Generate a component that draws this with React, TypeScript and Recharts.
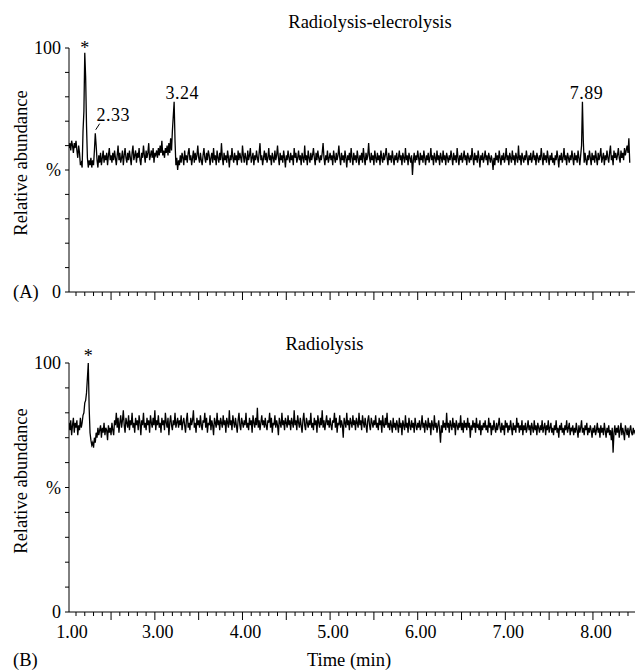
import { LineChart, Line, XAxis, YAxis, ReferenceDot, ReferenceLine } from 'recharts';

// sampling of both traces (min)
const T0 = 2.02;
const STEP = 0.01;
const X_DOMAIN: [number, number] = [2.02, 8.48];

// Radiolysis-elecrolysis trace, % relative abundance (2.02 .. 8.42 min)
const traceA = [
  59, 61, 58, 62, 60, 57, 61, 59, 62, 58, 55, 60, 57, 52, 53, 51, 66, 74, 98, 88, 68, 55, 51, 54, 52,
  55, 51, 54, 52, 58, 65, 60, 54, 51, 56, 53, 57, 52, 55, 58, 53, 56, 54, 57, 52, 56, 59, 54, 56, 53,
  57, 54, 58, 55, 52, 56, 60, 54, 57, 53, 55, 58, 52, 56, 59, 55, 53, 57, 54, 58, 55, 52, 57, 60, 54,
  56, 58, 53, 57, 55, 59, 54, 52, 57, 55, 60, 56, 53, 58, 55, 57, 61, 54, 56, 58, 55, 59, 53, 57, 56,
  58, 55, 59, 56, 60, 57, 62, 56, 58, 55, 59, 57, 60, 56, 61, 57, 63, 58, 66, 72, 78, 62, 52, 55, 50,
  54, 52, 56, 53, 57, 55, 52, 58, 54, 56, 53, 57, 59, 54, 56, 52, 55, 58, 53, 57, 54, 56, 60, 55, 53,
  57, 54, 52, 56, 59, 55, 53, 57, 54, 58, 56, 52, 55, 57, 53, 59, 54, 56, 52, 58, 55, 53, 57, 54, 61,
  55, 52, 57, 54, 56, 53, 58, 55, 51, 56, 54, 59, 55, 53, 57, 54, 56, 52, 58, 54, 57, 55, 53, 60, 56,
  53, 57, 55, 52, 58, 54, 56, 59, 53, 55, 57, 52, 56, 54, 58, 55, 53, 57, 61, 54, 56, 52, 55, 58, 54,
  57, 53, 55, 59, 54, 56, 52, 57, 55, 53, 58, 54, 56, 60, 55, 52, 57, 54, 56, 53, 58, 55, 51, 56, 54,
  58, 55, 53, 57, 54, 56, 52, 59, 55, 57, 53, 55, 58, 54, 56, 52, 57, 55, 53, 60, 54, 56, 52, 58, 55,
  53, 57, 54, 56, 59, 55, 52, 57, 54, 58, 55, 53, 56, 54, 57, 61, 55, 52, 56, 54, 58, 53, 55, 57, 54,
  56, 52, 58, 55, 53, 57, 54, 56, 60, 55, 52, 57, 54, 56, 53, 58, 55, 51, 56, 54, 57, 53, 59, 55, 52,
  57, 54, 56, 53, 58, 55, 52, 56, 54, 57, 53, 59, 55, 52, 57, 54, 56, 61, 55, 53, 57, 54, 56, 52, 58,
  55, 53, 57, 54, 56, 52, 58, 55, 53, 57, 54, 56, 59, 55, 52, 57, 54, 56, 53, 58, 55, 52, 56, 54, 57,
  53, 55, 58, 54, 56, 52, 57, 55, 53, 59, 54, 56, 52, 57, 55, 53, 56, 48, 54, 57, 53, 56, 54, 58, 55,
  52, 57, 54, 56, 53, 58, 55, 52, 56, 54, 57, 53, 55, 59, 54, 56, 52, 57, 55, 53, 58, 54, 56, 52, 57,
  55, 53, 58, 54, 56, 52, 57, 55, 53, 56, 54, 58, 55, 52, 57, 54, 56, 53, 59, 55, 52, 56, 54, 57, 53,
  55, 58, 54, 56, 52, 57, 55, 53, 56, 54, 59, 55, 52, 57, 54, 56, 53, 58, 55, 51, 56, 54, 57, 53, 55,
  58, 54, 56, 52, 57, 55, 53, 56, 54, 50, 55, 52, 57, 54, 56, 53, 58, 55, 52, 56, 54, 57, 53, 55, 59,
  54, 56, 52, 57, 55, 53, 58, 54, 56, 52, 57, 55, 53, 60, 54, 56, 52, 57, 55, 53, 56, 54, 58, 55, 52,
  56, 54, 57, 53, 55, 58, 54, 56, 52, 57, 55, 53, 56, 54, 59, 55, 52, 57, 54, 56, 53, 58, 55, 52, 56,
  54, 57, 53, 55, 52, 56, 54, 58, 55, 51, 56, 54, 57, 53, 55, 59, 54, 56, 52, 57, 55, 53, 56, 54, 58,
  55, 52, 57, 54, 56, 53, 58, 55, 52, 56, 60, 78, 62, 53, 57, 54, 52, 56, 54, 58, 55, 52, 57, 54, 56,
  53, 58, 55, 52, 57, 54, 56, 59, 53, 55, 57, 52, 56, 54, 58, 55, 53, 57, 60, 54, 56, 52, 58, 55, 57,
  54, 56, 59, 55, 53, 58, 55, 57, 54, 59, 56, 58, 60, 57, 63, 53,
];

// Radiolysis trace (2.02 .. 8.48 min)
const traceB = [
  76, 73, 77, 71, 75, 78, 72, 76, 74, 77, 71, 75, 73, 78, 74, 76, 79, 80, 84, 85, 88, 94, 100, 82, 72,
  69, 67, 68, 66, 70, 68, 72, 70, 74, 71, 73, 75, 70, 74, 72, 76, 71, 74, 73, 69, 75, 72, 74, 71, 76,
  73, 71, 77, 75, 80, 74, 78, 72, 76, 79, 74, 77, 81, 75, 72, 78, 76, 74, 79, 73, 77, 75, 80, 74, 76,
  72, 78, 75, 77, 73, 79, 76, 71, 77, 75, 80, 74, 76, 73, 78, 75, 77, 72, 79, 76, 74, 78, 75, 81, 73,
  77, 75, 79, 74, 76, 72, 78, 75, 77, 73, 80, 76, 74, 78, 71, 76, 79, 75, 73, 77, 75, 80, 74, 76, 78,
  74, 77, 75, 79, 73, 76, 78, 75, 72, 77, 80, 74, 76, 73, 78, 75, 77, 81, 74, 76, 72, 78, 75, 77, 74,
  79, 75, 73, 77, 76, 80, 74, 78, 72, 76, 75, 79, 73, 77, 75, 71, 78, 76, 74, 80, 75, 77, 73, 78, 76,
  74, 79, 75, 77, 72, 78, 76, 74, 81, 75, 77, 73, 79, 76, 74, 78, 75, 72, 77, 80, 75, 73, 78, 76, 74,
  77, 75, 80, 74, 76, 73, 78, 75, 77, 72, 79, 76, 74, 78, 75, 82, 74, 77, 73, 76, 79, 75, 77, 74, 78,
  75, 73, 77, 76, 80, 74, 78, 72, 76, 75, 79, 74, 77, 75, 71, 78, 76, 74, 80, 75, 77, 73, 78, 76, 74,
  79, 75, 77, 73, 78, 76, 74, 81, 75, 77, 73, 79, 76, 74, 78, 75, 72, 77, 80, 75, 73, 78, 76, 74, 77,
  75, 80, 74, 76, 73, 78, 75, 77, 72, 79, 76, 74, 78, 75, 81, 74, 77, 73, 76, 79, 75, 77, 74, 78, 75,
  73, 77, 76, 80, 74, 78, 72, 76, 75, 79, 74, 77, 75, 70, 78, 76, 74, 80, 75, 77, 73, 78, 76, 74, 79,
  75, 77, 73, 78, 76, 74, 80, 75, 77, 73, 79, 76, 74, 78, 75, 72, 77, 79, 75, 73, 78, 76, 74, 77, 75,
  79, 74, 76, 73, 78, 75, 77, 72, 79, 75, 74, 78, 75, 80, 74, 76, 73, 77, 75, 72, 78, 74, 76, 73, 77,
  75, 72, 78, 74, 76, 71, 77, 75, 73, 79, 74, 76, 72, 78, 75, 73, 77, 74, 76, 72, 78, 75, 73, 76, 74,
  77, 73, 75, 79, 74, 76, 72, 77, 75, 73, 78, 74, 76, 71, 77, 75, 73, 79, 74, 76, 72, 75, 77, 73, 68,
  75, 72, 77, 74, 76, 73, 80, 74, 76, 72, 77, 75, 73, 78, 74, 76, 71, 77, 75, 73, 76, 74, 79, 73, 76,
  72, 77, 74, 76, 73, 78, 74, 76, 70, 75, 73, 77, 74, 76, 72, 78, 74, 75, 73, 77, 71, 75, 73, 76, 74,
  77, 73, 75, 72, 78, 74, 76, 71, 75, 73, 77, 74, 72, 76, 73, 75, 78, 74, 72, 76, 73, 75, 71, 77, 74,
  76, 72, 75, 73, 77, 74, 71, 76, 73, 75, 72, 78, 74, 76, 72, 75, 73, 77, 71, 75, 73, 76, 72, 74, 77,
  73, 75, 71, 76, 74, 72, 77, 73, 75, 71, 76, 74, 72, 75, 73, 77, 72, 74, 76, 71, 75, 73, 77, 72, 74,
  76, 72, 74, 71, 75, 73, 77, 72, 74, 70, 75, 73, 76, 72, 74, 71, 75, 73, 77, 72, 74, 76, 71, 74, 73,
  75, 71, 74, 72, 76, 73, 70, 75, 72, 74, 77, 72, 74, 71, 75, 73, 76, 71, 74, 72, 75, 73, 70, 74, 72,
  75, 71, 73, 76, 72, 74, 70, 75, 72, 74, 71, 76, 73, 70, 74, 72, 75, 71, 73, 69, 74, 64, 72, 75, 71,
  74, 72, 75, 70, 73, 76, 71, 74, 72, 69, 75, 73, 71, 74, 70, 73, 75, 72, 71, 74, 72, 73,
];

// peak annotations: [time, abundance, text, dx, dy]
const peaksA: [number, number, string, number, number][] = [
  [2.2, 98, '*', 0, 1],
  [2.32, 65, '2.33', 18, -12],
  [3.22, 78, '3.24', 8, -3],
  [7.88, 78, '7.89', 4, -3],
];
const peaksB: [number, number, string, number, number][] = [
  [2.24, 100, '*', 0, -1.5],
];
const leaderA = [{ x: 2.325, y: 66.5 }, { x: 2.37, y: 69 }];

// axis ticks
const yTicks = [0, 10, 20, 30, 40, 50, 60, 70, 80, 90, 100];
const yTickLabels: Record<number, string> = { 0: '0', 50: '%', 100: '100' };
const xLabelAt = [2.02, 3, 4, 5, 6, 7, 8];
const xLabelText = ['1.00', '3.00', '4.00', '5.00', '6.00', '7.00', '8.00'];
const xMinor = Array.from({ length: 64 }, (_, k) => (21 + k) / 10);
const xTicks = [2.02, ...xMinor];

const FONT = 'Liberation Serif, Times New Roman, serif';

const dataA = traceA.map((v, i) => ({ t: +(T0 + i * STEP).toFixed(2), v }));
const dataB = traceB.map((v, i) => ({ t: +(T0 + i * STEP).toFixed(2), v }));

function XTick(props: any) {
  const { x, y, payload, showLabels } = props;
  const v: number = payload.value;
  const li = xLabelAt.findIndex(p => Math.abs(p - v) < 1e-6);
  const isStart = Math.abs(v - X_DOMAIN[0]) < 1e-6;
  const major = Math.abs(v * 2 - Math.round(v * 2)) < 1e-6;
  return (
    <g>
      {!isStart && (
        <line x1={x} x2={x} y1={y} y2={y + (major ? 8 : 4)} stroke="#000" strokeWidth={1} />
      )}
      {showLabels && li >= 0 && (
        <text x={x + 3} y={y + 26} textAnchor="middle" fontSize={18} fontFamily={FONT} fill="#000">
          {xLabelText[li]}
        </text>
      )}
    </g>
  );
}

function YTick(props: any) {
  const { x, y, payload } = props;
  const label = yTickLabels[payload.value];
  return (
    <g>
      <line x1={x - 4} x2={x} y1={y} y2={y} stroke="#000" strokeWidth={1} />
      {label && (
        <text x={x - 8} y={y + 6} textAnchor="end" fontSize={18} fontFamily={FONT} fill="#000">
          {label}
        </text>
      )}
    </g>
  );
}

function peakLabel(text: string, dx: number, dy: number) {
  return (p: any) => {
    const vb = p.viewBox || {};
    return (
      <text
        x={vb.x + dx}
        y={vb.y + dy}
        textAnchor="middle"
        fontSize={18}
        letterSpacing={text === '*' ? 0 : 0.5}
        fontFamily={FONT}
        fill="#000"
      >
        {text}
      </text>
    );
  };
}

interface PanelProps {
  data: { t: number; v: number }[];
  height: number;
  top: number;
  bottom: number;
  showLabels: boolean;
  peaks: [number, number, string, number, number][];
  children?: React.ReactNode;
}

function Panel({ data, height, top, bottom, showLabels, peaks, children }: PanelProps) {
  return (
    <LineChart width={636} height={height} data={data} margin={{ top, right: 1, bottom, left: 68 }}>
      <XAxis
        dataKey="t"
        type="number"
        domain={X_DOMAIN}
        ticks={xTicks}
        interval={0}
        height={1}
        tickSize={0}
        tickMargin={0}
        tickLine={false}
        axisLine={{ stroke: '#000', strokeWidth: 1 }}
        tick={<XTick showLabels={showLabels} />}
        allowDataOverflow
      />
      <YAxis
        type="number"
        domain={[0, 100]}
        ticks={yTicks}
        interval={0}
        width={1}
        tickSize={0}
        tickMargin={0}
        tickLine={false}
        axisLine={{ stroke: '#000', strokeWidth: 1 }}
        tick={<YTick />}
      />
      <Line
        type="linear"
        dataKey="v"
        stroke="#000"
        strokeWidth={1.3}
        dot={false}
        isAnimationActive={false}
      />
      {peaks.map(([t, v, text, dx, dy]) => (
        <ReferenceDot key={text} x={t} y={v} r={0} stroke="none" fill="none" label={peakLabel(text, dx, dy)} />
      ))}
      {children}
    </LineChart>
  );
}

export default function App() {
  const textProps = { fontFamily: FONT, fontSize: 18.5, fill: '#000' };
  return (
    <div style={{ position: 'absolute', left: 0, top: 0, width: 636, height: 672, background: '#fff', fontFamily: FONT }}>
      <div style={{ position: 'absolute', left: 0, top: 0 }}>
        <Panel data={dataA} height={310} top={48} bottom={17} showLabels={false} peaks={peaksA}>
          <ReferenceLine segment={leaderA} stroke="#000" strokeWidth={1} />
          <text x={370} y={28} textAnchor="middle" {...textProps}>Radiolysis-elecrolysis</text>
          <text x={27} y={163} transform="rotate(-90 27 163)" textAnchor="middle" {...textProps}>
            Relative abundance
          </text>
          <text x={13} y={298} {...textProps}>(A)</text>
        </Panel>
      </div>
      <div style={{ position: 'absolute', left: 0, top: 310 }}>
        <Panel data={dataB} height={362} top={53} bottom={59} showLabels peaks={peaksB}>
          <text x={324.5} y={40} textAnchor="middle" {...textProps}>Radiolysis</text>
          <text x={27} y={171} transform="rotate(-90 27 171)" textAnchor="middle" {...textProps}>
            Relative abundance
          </text>
          <text x={13} y={356} {...textProps}>(B)</text>
          <text x={349} y={356} textAnchor="middle" {...textProps}>Time (min)</text>
        </Panel>
      </div>
    </div>
  );
}
